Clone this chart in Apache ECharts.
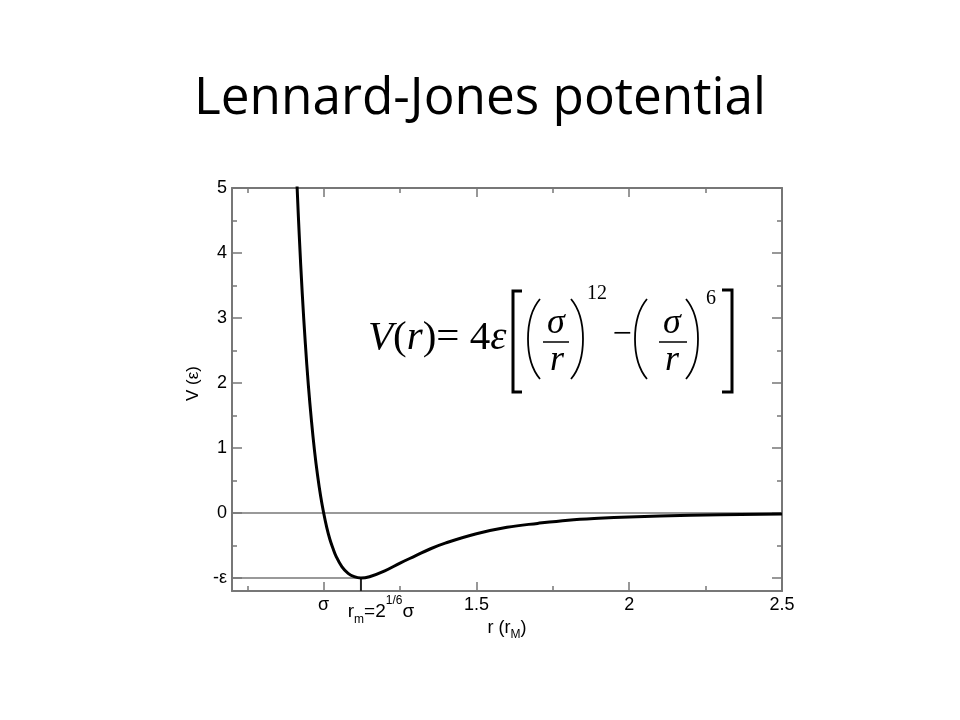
<!DOCTYPE html>
<html><head><meta charset="utf-8">
<script src="https://cdn.jsdelivr.net/npm/echarts@6/dist/echarts.min.js"></script>
<style>html,body{margin:0;padding:0;background:#fff}#c{width:960px;height:720px}</style>
</head><body><div id="c"></div>
<script>
// ---- data ----
const titleText = 'Lennard-Jones potential';
const rValues = [0.912, 0.92, 0.93, 0.94, 0.95, 0.96, 0.97, 0.98, 0.99, 1.0, 1.01, 1.02, 1.03, 1.04, 1.06, 1.08, 1.10, 1.122, 1.15, 1.2, 1.25, 1.3, 1.35, 1.4, 1.5, 1.6, 1.7, 1.8, 1.9, 2.0, 2.2, 2.5];
const vValues = [5.13, 4.28, 3.37, 2.61, 1.96, 1.42, 0.96, 0.58, 0.26, 0.0, -0.22, -0.40, -0.54, -0.66, -0.83, -0.93, -0.98, -1.0, -0.98, -0.89, -0.77, -0.66, -0.55, -0.46, -0.32, -0.22, -0.16, -0.11, -0.08, -0.06, -0.035, -0.016];
const xRange = [0.7, 2.5];
const yRange = [-1.2, 5];
const sigmaPos = 1.0;
const rmPos = 1.122;
const epsPos = -1;
const xMajorTicks = [1, 1.5, 2, 2.5];
const xMinorTicks = [0.75, 1.25, 1.75, 2.25];
const xLabelValues = [1, 1.5, 2, 2.5];
const rmLabelValues = [1.122];
const yMajorTicks = [-1, 0, 1, 2, 3, 4, 5];
const yMinorTicks = [-0.5, 0.5, 1.5, 2.5, 3.5, 4.5];
const yLabelValues = [-1, 0, 1, 2, 3, 4, 5];

// ---- chart ----
const SANS = '"Liberation Sans", Arial, sans-serif';
const SERIF = '"Liberation Serif", "Times New Roman", serif';
const AX = '#777';

function fitTitle(text, family, width) {
  const cv = document.createElement('canvas').getContext('2d');
  cv.font = '100px ' + family;
  return 100 * width / cv.measureText(text).width;
}
const TITLE_FONT = '"Open Sans", sans-serif';
const titleSize = Math.round(fitTitle(titleText, TITLE_FONT, 572) * 10) / 10;

function xAxisDef(pos, ticks, len, showLine) {
  return {
    type: 'value', position: pos, min: xRange[0], max: xRange[1],
    splitLine: { show: false },
    axisLine: { show: showLine, onZero: false, lineStyle: { color: AX, width: 2 } },
    axisTick: { show: true, inside: true, length: len, customValues: ticks, lineStyle: { color: AX, width: 1.5 } },
    axisLabel: { show: false }
  };
}
function yAxisDef(pos, ticks, len, showLine) {
  return {
    type: 'value', position: pos, min: yRange[0], max: yRange[1],
    splitLine: { show: false },
    axisLine: { show: showLine, onZero: false, lineStyle: { color: AX, width: 2 } },
    axisTick: { show: true, inside: true, length: len, customValues: ticks, lineStyle: { color: AX, width: 1.5 } },
    axisLabel: { show: false }
  };
}

const xMain = xAxisDef('bottom', xMajorTicks, 9, true);
xMain.axisLabel = {
  show: true, margin: 5, customValues: xLabelValues, hideOverlap: false,
  fontSize: 18, fontFamily: SANS, color: '#000',
  formatter: function (v) { return Math.abs(v - sigmaPos) < 1e-6 ? 'σ' : String(v); }
};
xMain.name = '{a|r (r}{m|M}{a|)}';
xMain.nameLocation = 'middle';
xMain.nameGap = 14;
xMain.nameTextStyle = {
  color: '#000', fontFamily: SANS, fontSize: 18,
  rich: {
    a: { fontSize: 18, lineHeight: 18, fontFamily: SANS, color: '#000', verticalAlign: 'top' },
    m: { fontSize: 12, lineHeight: 12, fontFamily: SANS, color: '#000', verticalAlign: 'top', padding: [10, 0, 0, 0] }
  }
};

const xMinor = xAxisDef('bottom', xMinorTicks, 5, false);
xMinor.axisLabel = {
  show: true, margin: 4, customValues: rmLabelValues, hideOverlap: false,
  formatter: function () { return '{sp| }{a|r}{b|m}{a|=2}{c|1/6}{a|σ}'; },
  rich: {
    a: { fontSize: 19, lineHeight: 19, fontFamily: SANS, color: '#000', verticalAlign: 'top', padding: [7, 0, 0, 0] },
    b: { fontSize: 12, lineHeight: 12, fontFamily: SANS, color: '#000', verticalAlign: 'top', padding: [19, 0, 0, 0] },
    c: { fontSize: 12, lineHeight: 12, fontFamily: SANS, color: '#000', verticalAlign: 'top', padding: [0, 0, 0, 0] },
    sp: { fontSize: 12, width: 40, verticalAlign: 'top' }
  }
};

const yMain = yAxisDef('left', yMajorTicks, 10, true);
yMain.axisLabel = {
  show: true, margin: 5, customValues: yLabelValues, hideOverlap: false,
  fontSize: 18, fontFamily: SANS, color: '#000',
  formatter: function (v) { return Math.abs(v - epsPos) < 1e-6 ? '-ε' : String(v); }
};
yMain.name = 'V (ε)';
yMain.nameLocation = 'middle';
yMain.nameRotate = 90;
yMain.nameGap = 30;
yMain.nameTextStyle = { color: '#000', fontFamily: SANS, fontSize: 17, padding: [0, 0, 0, 12] };

const option = {
  animation: false,
  backgroundColor: '#fff',
  title: {
    text: titleText, left: 'center', top: Math.round(112 - 0.83 * titleSize),
    textStyle: { fontFamily: TITLE_FONT, fontSize: titleSize, fontWeight: 'normal', color: '#000' }
  },
  grid: { left: 232, right: 178, top: 188, bottom: 129, containLabel: false },
  xAxis: [
    xMain,
    xMinor,
    xAxisDef('top', xMajorTicks, 9, true),
    xAxisDef('top', xMinorTicks, 5, false)
  ],
  yAxis: [
    yMain,
    yAxisDef('left', yMinorTicks, 5, false),
    yAxisDef('right', yMajorTicks, 10, true),
    yAxisDef('right', yMinorTicks, 5, false)
  ],
  series: [
    {
      name: 'zero', type: 'line', symbol: 'none', silent: true, z: 2,
      data: [[xRange[0], 0], [xRange[1], 0]],
      lineStyle: { color: AX, width: 1.5 }
    },
    {
      name: 'epsilon', type: 'line', symbol: 'none', silent: true, z: 2,
      data: [[xRange[0], epsPos], [rmPos, epsPos]],
      lineStyle: { color: AX, width: 1.5 }
    },
    {
      name: 'rm', type: 'line', symbol: 'none', silent: true, z: 3,
      data: [[rmPos, yRange[0]], [rmPos, epsPos]],
      lineStyle: { color: '#222', width: 2 }
    },
    {
      name: 'V(r)', type: 'line', symbol: 'none', z: 5, clip: true,
      smooth: 0.4,
      data: rValues.map(function (r, i) { return [r, vValues[i]]; }),
      lineStyle: { color: '#000', width: 3 }
    }
  ],
  graphic: {
    elements: [
      { type: 'text', x: 368, y: 338, style: {
          text: '{i|V}{n|(}{i|r}{n|)= 4}{i|ε}', verticalAlign: 'middle', textVerticalAlign: 'middle', align: 'left', textAlign: 'left',
          rich: {
            i: { fontFamily: SERIF, fontStyle: 'italic', fontSize: 41, fill: '#000', color: '#000' },
            n: { fontFamily: SERIF, fontSize: 41, fill: '#000', color: '#000' }
          } } },
      { type: 'polyline', shape: { points: [[522, 291], [513, 291], [513, 392], [522, 392]] }, style: { stroke: '#000', lineWidth: 3, fill: null } },
      { type: 'bezierCurve', shape: { x1: 540, y1: 299, cpx1: 524, cpy1: 318, cpx2: 524, cpy2: 360, x2: 540, y2: 379 }, style: { stroke: '#000', lineWidth: 1.8, fill: null } },
      { type: 'bezierCurve', shape: { x1: 571, y1: 299, cpx1: 587, cpy1: 318, cpx2: 587, cpy2: 360, x2: 571, y2: 379 }, style: { stroke: '#000', lineWidth: 1.8, fill: null } },
      { type: 'text', x: 556, y: 324, style: { text: 'σ', font: 'italic 36px ' + SERIF, fill: '#000', align: 'center', textAlign: 'center', verticalAlign: 'middle', textVerticalAlign: 'middle' } },
      { type: 'line', shape: { x1: 543, y1: 342, x2: 569, y2: 342 }, style: { stroke: '#000', lineWidth: 1.5 } },
      { type: 'text', x: 557, y: 361, style: { text: 'r', font: 'italic 36px ' + SERIF, fill: '#000', align: 'center', textAlign: 'center', verticalAlign: 'middle', textVerticalAlign: 'middle' } },
      { type: 'text', x: 587, y: 294, style: { text: '12', font: '20px ' + SERIF, fill: '#000', align: 'left', textAlign: 'left', verticalAlign: 'middle', textVerticalAlign: 'middle' } },
      { type: 'text', x: 622, y: 335, style: { text: '−', font: '34px ' + SERIF, fill: '#000', align: 'center', textAlign: 'center', verticalAlign: 'middle', textVerticalAlign: 'middle' } },
      { type: 'bezierCurve', shape: { x1: 647, y1: 299, cpx1: 631, cpy1: 318, cpx2: 631, cpy2: 360, x2: 647, y2: 379 }, style: { stroke: '#000', lineWidth: 1.8, fill: null } },
      { type: 'bezierCurve', shape: { x1: 686, y1: 299, cpx1: 702, cpy1: 318, cpx2: 702, cpy2: 360, x2: 686, y2: 379 }, style: { stroke: '#000', lineWidth: 1.8, fill: null } },
      { type: 'text', x: 672, y: 324, style: { text: 'σ', font: 'italic 36px ' + SERIF, fill: '#000', align: 'center', textAlign: 'center', verticalAlign: 'middle', textVerticalAlign: 'middle' } },
      { type: 'line', shape: { x1: 659, y1: 342, x2: 687, y2: 342 }, style: { stroke: '#000', lineWidth: 1.5 } },
      { type: 'text', x: 672, y: 361, style: { text: 'r', font: 'italic 36px ' + SERIF, fill: '#000', align: 'center', textAlign: 'center', verticalAlign: 'middle', textVerticalAlign: 'middle' } },
      { type: 'text', x: 706, y: 299, style: { text: '6', font: '20px ' + SERIF, fill: '#000', align: 'left', textAlign: 'left', verticalAlign: 'middle', textVerticalAlign: 'middle' } },
      { type: 'polyline', shape: { points: [[722, 290], [732, 290], [732, 392], [722, 392]] }, style: { stroke: '#000', lineWidth: 3, fill: null } }
    ]
  }
};
const chart = echarts.init(document.getElementById('c'), null, { renderer: 'canvas' });
chart.setOption(option);
</script>
</body></html>
